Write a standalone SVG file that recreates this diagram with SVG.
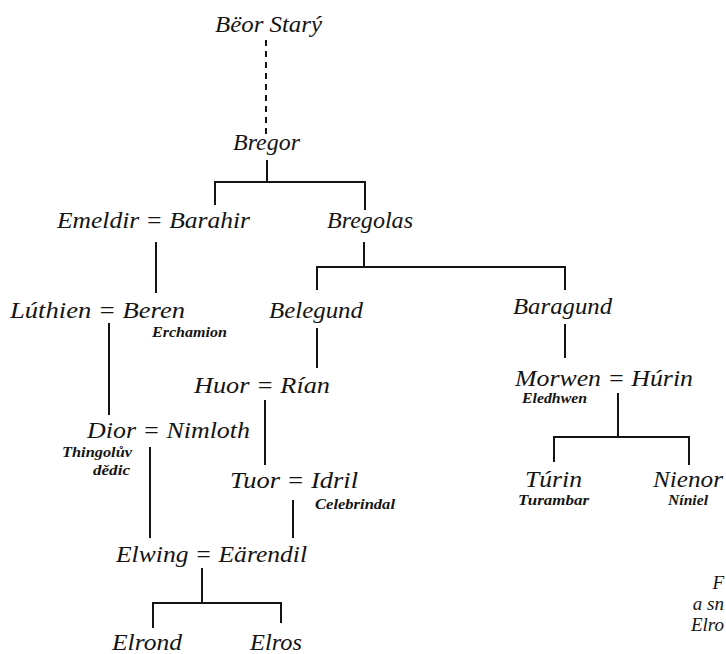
<svg xmlns="http://www.w3.org/2000/svg" width="726" height="654" viewBox="0 0 726 654">
<style>
  .n { font-family: "Liberation Serif", "Times New Roman", serif; font-style: italic; font-size: 23px; fill: #141414; }
  .s { font-family: "Liberation Serif", "Times New Roman", serif; font-style: italic; font-weight: bold; font-size: 14px; fill: #141414; }
  .t { font-family: "Liberation Serif", "Times New Roman", serif; font-style: italic; font-size: 19px; fill: #141414; text-anchor: end; }
  .c { stroke: #141414; stroke-width: 2; fill: none; }
  .d { stroke-dasharray: 6 5; }
</style>
<rect width="726" height="654" fill="#ffffff"/>
<g id="connectors">
  <line class="c d" x1="266" y1="40" x2="266" y2="135"/>
  <polyline class="c" points="215,205 215,182 365,182 365,210"/>
  <line class="c" x1="267" y1="160" x2="267" y2="182"/>
  <line class="c" x1="156" y1="242" x2="156" y2="293"/>
  <line class="c" x1="364" y1="242" x2="364" y2="267"/>
  <polyline class="c" points="317,290 317,267 565,267 565,290"/>
  <line class="c" x1="109" y1="323" x2="109" y2="415"/>
  <line class="c" x1="317" y1="328" x2="317" y2="368"/>
  <line class="c" x1="565" y1="324" x2="565" y2="358"/>
  <line class="c" x1="265" y1="400" x2="265" y2="465"/>
  <line class="c" x1="618" y1="393" x2="618" y2="437"/>
  <polyline class="c" points="554,462 554,437 689,437 689,465"/>
  <line class="c" x1="150" y1="447" x2="150" y2="538"/>
  <line class="c" x1="293" y1="500" x2="293" y2="538"/>
  <line class="c" x1="202" y1="568" x2="202" y2="603"/>
  <polyline class="c" points="153,628 153,603 281,603 281,623"/>
</g>
<g id="beor"><text class="n" x="215" y="32" textLength="107" lengthAdjust="spacingAndGlyphs">Bëor Starý</text></g>
<g id="bregor"><text class="n" x="233" y="150" textLength="67" lengthAdjust="spacingAndGlyphs">Bregor</text></g>
<g id="emeldir-barahir"><text class="n" x="57" y="228" textLength="193" lengthAdjust="spacingAndGlyphs">Emeldir = Barahir</text></g>
<g id="bregolas"><text class="n" x="327" y="228" textLength="86" lengthAdjust="spacingAndGlyphs">Bregolas</text></g>
<g id="luthien-beren">
  <text class="n" x="10" y="318" textLength="175" lengthAdjust="spacingAndGlyphs">Lúthien = Beren</text>
  <text class="s" x="152" y="337" textLength="75" lengthAdjust="spacingAndGlyphs">Erchamion</text>
</g>
<g id="belegund"><text class="n" x="269" y="318" textLength="94" lengthAdjust="spacingAndGlyphs">Belegund</text></g>
<g id="baragund"><text class="n" x="513" y="314" textLength="99" lengthAdjust="spacingAndGlyphs">Baragund</text></g>
<g id="huor-rian"><text class="n" x="194" y="393" textLength="136" lengthAdjust="spacingAndGlyphs">Huor = Rían</text></g>
<g id="morwen-hurin">
  <text class="n" x="515" y="386" textLength="178" lengthAdjust="spacingAndGlyphs">Morwen = Húrin</text>
  <text class="s" x="522" y="403" textLength="65" lengthAdjust="spacingAndGlyphs">Eledhwen</text>
</g>
<g id="dior-nimloth">
  <text class="n" x="87" y="438" textLength="163" lengthAdjust="spacingAndGlyphs">Dior = Nimloth</text>
  <text class="s" x="62" y="457" textLength="70" lengthAdjust="spacingAndGlyphs">Thingolův</text>
  <text class="s" x="93" y="475" textLength="37" lengthAdjust="spacingAndGlyphs">dědic</text>
</g>
<g id="tuor-idril">
  <text class="n" x="230" y="488" textLength="128" lengthAdjust="spacingAndGlyphs">Tuor = Idril</text>
  <text class="s" x="315" y="509" textLength="80" lengthAdjust="spacingAndGlyphs">Celebrindal</text>
</g>
<g id="turin">
  <text class="n" x="525" y="487" textLength="57" lengthAdjust="spacingAndGlyphs">Túrin</text>
  <text class="s" x="518" y="505" textLength="71" lengthAdjust="spacingAndGlyphs">Turambar</text>
</g>
<g id="nienor">
  <text class="n" x="653" y="487" textLength="70" lengthAdjust="spacingAndGlyphs">Nienor</text>
  <text class="s" x="668" y="505" textLength="40" lengthAdjust="spacingAndGlyphs">Níniel</text>
</g>
<g id="elwing-earendil"><text class="n" x="116" y="562" textLength="191" lengthAdjust="spacingAndGlyphs">Elwing = Eärendil</text></g>
<g id="elrond"><text class="n" x="112" y="650" textLength="70" lengthAdjust="spacingAndGlyphs">Elrond</text></g>
<g id="elros"><text class="n" x="250" y="650" textLength="52" lengthAdjust="spacingAndGlyphs">Elros</text></g>
<g id="note">
  <text class="t" x="724" y="589">F</text>
  <text class="t" x="724" y="610">a sn</text>
  <text class="t" x="724" y="631">Elro</text>
</g>
</svg>
